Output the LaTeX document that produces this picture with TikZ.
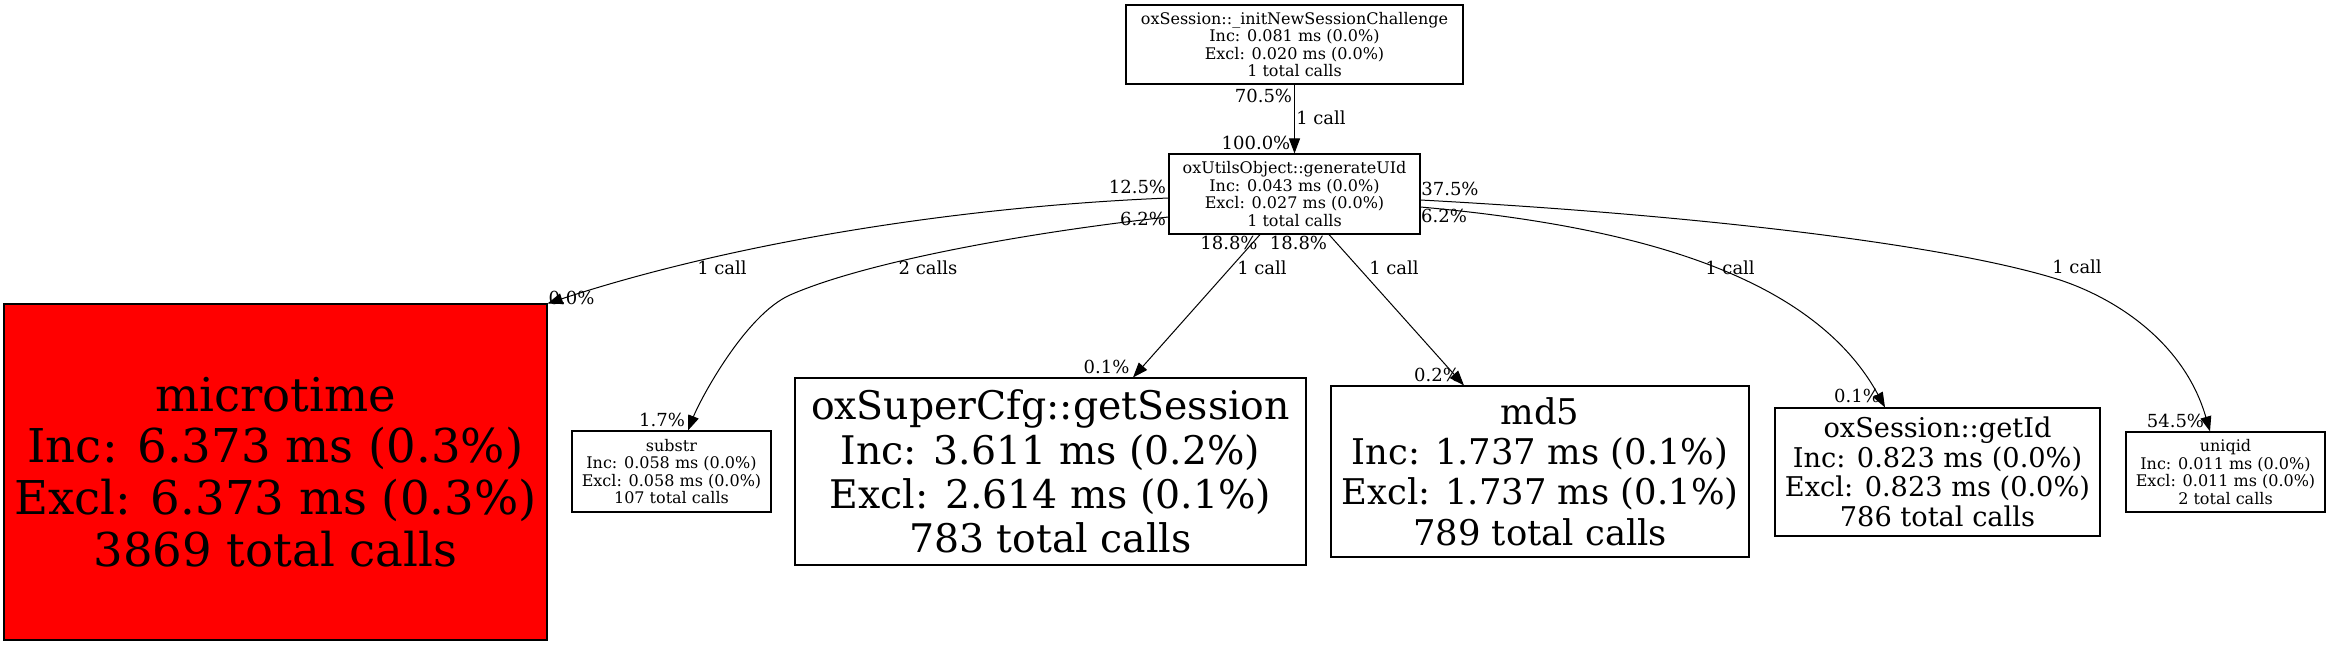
\documentclass[tikz,border=0pt]{standalone}
\usepackage{fontspec}
\setmainfont{DejaVu Serif}
\usetikzlibrary{arrows.meta}

\begin{document}
\begin{tikzpicture}[x=0.5pt, y=-0.5pt,
	fn/.style={draw, line width=0.55pt, inner sep=0pt, align=center},
	small/.style={font=\fontsize{8}{8.7}\selectfont},
	call/.style={-{Triangle[length=7.5pt, width=5.5pt]}, line width=0.5pt},
	lbl/.style={font=\fontsize{9}{10}\selectfont, inner sep=0pt}]
	\useasboundingbox (0,0) rectangle (2331,645);

	% caller and callee
	\node[fn, small, minimum width=168.5pt, minimum height=39.5pt] (init) at (1294.5,44.5)
		{oxSession::\_initNewSessionChallenge\\Inc: 0.081 ms (0.0\%)\\Excl: 0.020 ms (0.0\%)\\1 total calls};
	\node[fn, small, minimum width=125.5pt, minimum height=40pt] (genuid) at (1294.5,194)
		{oxUtilsObject::generateUId\\Inc: 0.043 ms (0.0\%)\\Excl: 0.027 ms (0.0\%)\\1 total calls};

	% children, one rank
	\node[fn, fill=red, font=\fontsize{23.3}{25.85}\selectfont, minimum width=271.5pt, minimum height=168pt] (microtime) at (275.5,472)
		{microtime\\Inc: 6.373 ms (0.3\%)\\Excl: 6.373 ms (0.3\%)\\3869 total calls};
	\node[fn, small, minimum width=99.5pt, minimum height=40.5pt] (substr) at (671.5,471.5)
		{substr\\Inc: 0.058 ms (0.0\%)\\Excl: 0.058 ms (0.0\%)\\107 total calls};
	\node[fn, font=\fontsize{19.7}{22.1}\selectfont, minimum width=255.5pt, minimum height=93.5pt] (getsess) at (1050.5,471.5)
		{oxSuperCfg::getSession\\Inc: 3.611 ms (0.2\%)\\Excl: 2.614 ms (0.1\%)\\783 total calls};
	\node[fn, font=\fontsize{17.7}{20.1}\selectfont, minimum width=209pt, minimum height=85.5pt] (md5) at (1540,471.5)
		{md5\\Inc: 1.737 ms (0.1\%)\\Excl: 1.737 ms (0.1\%)\\789 total calls};
	\node[fn, font=\fontsize{13.6}{14.75}\selectfont, minimum width=162.5pt, minimum height=64pt] (getid) at (1937.5,472)
		{oxSession::getId\\Inc: 0.823 ms (0.0\%)\\Excl: 0.823 ms (0.0\%)\\786 total calls};
	\node[fn, small, minimum width=99.5pt, minimum height=40pt] (uniqid) at (2225.5,472)
		{uniqid\\Inc: 0.011 ms (0.0\%)\\Excl: 0.011 ms (0.0\%)\\2 total calls};

	% calls
	\draw[call] (init) -- (genuid);
	\draw[call] ([yshift=-2pt]genuid.west) .. controls (969,206) and (741,240) .. (microtime.north east);
	\draw[call] ([yshift=-11.5pt]genuid.west) .. controls (1039,231) and (870,260) .. (790,295)
		.. controls (745,315) and (700,400) .. ([xshift=8.25pt]substr.north);
	\draw[call] ([xshift=-17.25pt]genuid.south) -- ([xshift=41.25pt]getsess.north);
	\draw[call] ([xshift=17.25pt]genuid.south) -- ([xshift=-38pt]md5.north);
	\draw[call] ([yshift=-6.5pt]genuid.east) .. controls (1620,225) and (1810,270) .. ([xshift=-26.25pt]getid.north);
	\draw[call] ([yshift=-3pt]genuid.east) .. controls (1700,215) and (1950,245) .. (2060,280)
		.. controls (2120,300) and (2185,345) .. ([xshift=-7.75pt]uniqid.north);

	% labels: calls, tail and head percentages
	\node[lbl] (c-init) at (1321,118) {1 call};
	\node[lbl] (t-init) at (1263.5,96) {70.5\%};
	\node[lbl] (h-init) at (1256,143) {100.0\%};

	\node[lbl] (c-micro) at (722,268) {1 call};
	\node[lbl] (t-micro) at (1137.5,187) {12.5\%};
	\node[lbl] (h-micro) at (571.5,298) {0.0\%};

	\node[lbl] (c-substr) at (928,268) {2 calls};
	\node[lbl] (t-substr) at (1143,219) {6.2\%};
	\node[lbl] (h-substr) at (662,420) {1.7\%};

	\node[lbl] (c-getsess) at (1262,268) {1 call};
	\node[lbl] (t-getsess) at (1229,243) {18.8\%};
	\node[lbl] (h-getsess) at (1106.5,367) {0.1\%};

	\node[lbl] (c-md5) at (1394,268) {1 call};
	\node[lbl] (t-md5) at (1298.5,243) {18.8\%};
	\node[lbl] (h-md5) at (1437,375) {0.2\%};

	\node[lbl] (c-getid) at (1730,268) {1 call};
	\node[lbl] (t-getid) at (1444,216) {6.2\%};
	\node[lbl] (h-getid) at (1857,396) {0.1\%};

	\node[lbl] (c-uniqid) at (2077,267) {1 call};
	\node[lbl] (t-uniqid) at (1450,189) {37.5\%};
	\node[lbl] (h-uniqid) at (2175.5,421) {54.5\%};
\end{tikzpicture}
\end{document}
